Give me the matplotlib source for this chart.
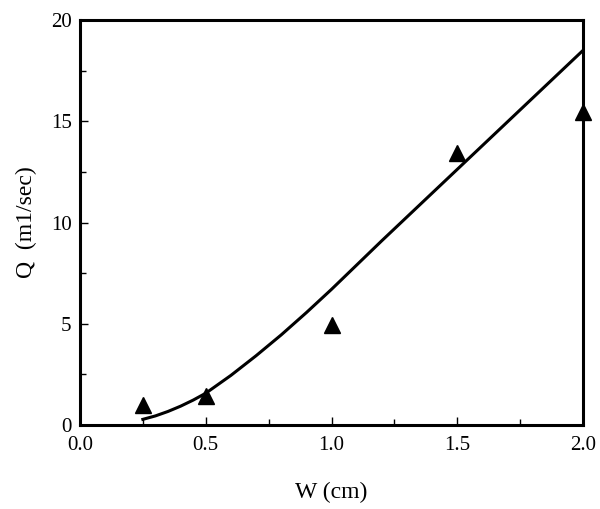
# ==========================================================
# Q vs W plot
# ==========================================================

import matplotlib
matplotlib.use("Agg")
import matplotlib.pyplot as plt
from matplotlib.ticker import MultipleLocator

# ==========================================================
# DATA
# ==========================================================

w_measured = [0.25, 0.5, 1.0, 1.5, 2.0]
q_measured = [1.0, 1.45, 4.95, 13.45, 15.45]

w_model = [0.25, 0.3, 0.35, 0.4, 0.45, 0.5, 0.6, 0.7, 0.8, 0.9, 1.0,
           1.2, 1.4, 1.6, 1.8, 2.0]
q_model = [0.28, 0.45, 0.67, 0.93, 1.23, 1.57, 2.45, 3.42, 4.45, 5.55, 6.7,
           9.1, 11.45, 13.8, 16.15, 18.5]

# ==========================================================
# FIGURE
# ==========================================================

plt.rcParams["font.family"] = ["Liberation Serif", "DejaVu Serif"]

fig = plt.figure(figsize=(6.0, 5.09), dpi=100)
ax = fig.add_axes([0.1333, 0.165, 0.8384, 0.7957])

ax.plot(w_model, q_model, color="black", linewidth=2.2)
ax.plot(w_measured, q_measured, linestyle="none", marker="^",
        markersize=11, color="black", clip_on=False)

ax.set_xlim(0, 2.0)
ax.set_ylim(0, 20)

ax.xaxis.set_major_locator(MultipleLocator(0.5))
ax.xaxis.set_minor_locator(MultipleLocator(0.25))
ax.yaxis.set_major_locator(MultipleLocator(5))
ax.yaxis.set_minor_locator(MultipleLocator(2.5))
ax.xaxis.set_major_formatter(plt.FormatStrFormatter("%.1f"))

ax.tick_params(which="both", direction="in", width=1.0,
               labelsize=15, top=False, right=False)
ax.tick_params(which="major", length=6)
ax.tick_params(which="minor", length=4)
ax.tick_params(axis="x", pad=8)
ax.tick_params(axis="y", pad=6)

for spine in ax.spines.values():
    spine.set_linewidth(2.2)

ax.set_xlabel("W (cm)", fontsize=17, labelpad=19)
ax.set_ylabel("Q  (m1/sec)", fontsize=17, labelpad=10)

fig.savefig("out.png", dpi=100)
